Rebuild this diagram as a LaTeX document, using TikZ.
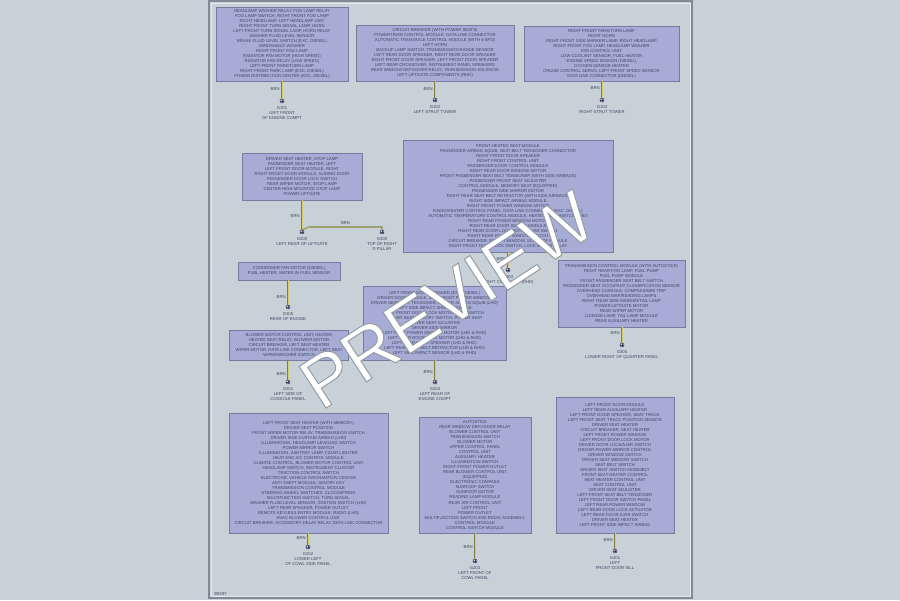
\documentclass[tikz,border=0pt]{standalone}
\usepackage{fontspec}
\usetikzlibrary{positioning}
\newfontfamily\diagfont{Liberation Sans}
\newcommand{\boxfont}{\diagfont\fontsize{2.4}{2.85}\selectfont}
\newcommand{\wmfont}{\diagfont\fontsize{41}{41}\selectfont}
% white letters with a grey outline (text render mode 2)
\newcommand{\outlined}[1]{\textcolor{white}{\special{pdf:literal q 0.58 0.61 0.64 RG 0.55 w 2 Tr}#1\special{pdf:literal Q}}}
\definecolor{bgcol}{RGB}{199,209,215}
\definecolor{boxfill}{RGB}{166,172,214}
\definecolor{boxline}{RGB}{118,124,160}
\definecolor{inkcol}{RGB}{66,68,100}
\definecolor{wirecol}{RGB}{128,126,58}
\definecolor{wirelite}{RGB}{214,204,112}
\definecolor{frameline}{RGB}{128,138,148}

\begin{document}
\begin{tikzpicture}[x=0.02cm, y=-0.02cm,
	compbox/.style={draw=boxline, fill=boxfill, text=inkcol, font=\boxfont, align=center, inner sep=1pt},
	gnd/.style={circle, draw=inkcol, fill=bgcol, line width=0.3pt, inner sep=0pt, minimum size=0.08cm,
		path picture={\draw[inkcol, line width=0.3pt] (path picture bounding box.north) -- (path picture bounding box.south)
			(path picture bounding box.west) -- (path picture bounding box.east);}},
	glabel/.style={text=inkcol, font=\boxfont, align=center, inner sep=0pt},
	wire/.style={draw=wirecol, line width=0.7pt, postaction={draw=wirelite, line width=0.25pt, transform canvas={xshift=0.3pt}}},
	wlabel/.style={text=inkcol, font=\boxfont, inner sep=1pt}]
	\useasboundingbox (0,0) rectangle (900,600);
	\fill[bgcol] (0,0) rectangle (900,600);
	\draw[frameline, line width=0.6pt] (209,1) rectangle (692,598);
	\draw[white!80!frameline, line width=0.3pt] (211,3) rectangle (690,596);
	\node[glabel, anchor=west] (figno) at (214,594) {9R297};

	% top row
	\node[compbox, minimum width=2.64cm, minimum height=1.48cm] (boxA) at (282,44) {HEADLAMP WASHER RELAY, FOG LAMP RELAY\\
		FOG LAMP SWITCH, RIGHT FRONT FOG LAMP\\RIGHT HEADLAMP, LEFT HEADLAMP UNIT\\
		RIGHT FRONT TURN SIGNAL LAMP, HORN\\LEFT FRONT TURN SIGNAL LAMP, HORN RELAY\\
		WASHER FLUID LEVEL SENSOR\\BRAKE FLUID LEVEL SWITCH (EXC. DIESEL)\\WINDSHIELD WASHER\\
		RIGHT FRONT FOG LAMP\\RADIATOR FAN MOTOR (HIGH SPEED)\\RADIATOR FAN RELAY (LOW SPEED)\\
		LEFT FRONT PARK/TURN LAMP\\RIGHT FRONT PARK LAMP (EXC. DIESEL)\\POWER DISTRIBUTION CENTER (EXC. DIESEL)};
	\node[compbox, minimum width=3.16cm, minimum height=1.12cm] (boxB) at (435,53) {CIRCUIT BREAKER (WITH POWER SEATS)\\
		POWERTRAIN CONTROL MODULE, DATA LINK CONNECTOR\\AUTOMATIC TRANSAXLE CONTROL MODULE (WITH 4-SPD)\\
		LEFT HORN\\BACKUP LAMP SWITCH, TRANSMISSION RANGE SENSOR\\LEFT REAR DOOR SPEAKER, RIGHT REAR DOOR SPEAKER\\
		RIGHT FRONT DOOR SPEAKER, LEFT FRONT DOOR SPEAKER\\LEFT REAR CROSSOVER, INSTRUMENT PANEL SPEAKERS\\
		REAR WINDOW DEFOGGER RELAY, TRANSMISSION SOLENOID\\LEFT LIFTGATE COMPONENTS (RHD)};
	\node[compbox, minimum width=3.10cm, minimum height=1.10cm] (boxC) at (601.5,53.5) {RIGHT FRONT PARK/TURN LAMP\\
		RIGHT HORN\\RIGHT FRONT SIDE MARKER LAMP, RIGHT HEADLAMP\\RIGHT FRONT FOG LAMP, HEADLAMP WASHER\\
		FAN CONTROL UNIT\\LOW COOLANT SENSOR, FUEL HEATER\\ENGINE SPEED SENSOR (DIESEL)\\
		OXYGEN SENSOR HEATER\\CRUISE CONTROL SERVO, LEFT FRONT SPEED SENSOR\\DATA LINK CONNECTOR (DIESEL)};

	\node[gnd] (gA) at (282,101) {};
	\node[gnd] (gB) at (435,100) {};
	\node[gnd] (gC) at (602,100) {};
	\node[glabel, below=1.5pt of gA] (lA) {G101\\LEFT FRONT\\OF ENGINE COMPT};
	\node[glabel, below=1.5pt of gB] (lB) {G102\\LEFT STRUT TOWER};
	\node[glabel, below=1.5pt of gC] (lC) {G103\\RIGHT STRUT TOWER};
	\draw[wire] (boxA.south -| gA) -- (gA.north) node[wlabel, pos=0.45, left] {BRN};
	\draw[wire] (boxB.south -| gB) -- (gB.north) node[wlabel, pos=0.45, left] {BRN};
	\draw[wire] (boxC.south -| gC) -- (gC.north) node[wlabel, pos=0.4, left] {BRN};

	% middle
	\node[compbox, minimum width=2.40cm, minimum height=0.94cm] (boxD) at (302,176.5) {DRIVER SEAT HEATER, STOP LAMP\\
		PASSENGER SEAT HEATER, LEFT\\LEFT FRONT DOOR MODULE, RIGHT\\RIGHT FRONT DOOR MODULE, SLIDING DOOR\\
		PASSENGER DOOR LOCK SWITCH\\REAR WIPER MOTOR, STOP LAMP\\CENTER HIGH MOUNTED STOP LAMP\\POWER LIFTGATE};
	\node[compbox, minimum width=4.20cm, minimum height=2.24cm] (boxE) at (508,196) {FRONT HEATED SEAT MODULE\\
		PASSENGER AIRBAG SQUIB, SEAT BELT TENSIONER CONNECTOR\\RIGHT FRONT DOOR SPEAKER\\RIGHT FRONT CONTROL UNIT\\
		PASSENGER DOOR CONTROL MODULE\\RIGHT REAR DOOR WINDOW MOTOR\\
		FRONT PASSENGER SEAT BELT TENSIONER (WITH SIDE AIRBAGS)\\PASSENGER FRONT SEAT ADJUSTER\\
		CONTROL MODULE, MEMORY SEAT (EQUIPPED)\\PASSENGER SIDE MIRROR MOTOR\\
		RIGHT REAR SEAT BELT RETRACTOR (WITH SIDE AIRBAGS)\\RIGHT SIDE IMPACT AIRBAG MODULE\\
		RIGHT FRONT POWER WINDOW MOTOR\\RADIO/HEATER CONTROL PANEL, DATA LINK CONNECTOR (EXC. DIESEL)\\
		AUTOMATIC TEMPERATURE CONTROL MODULE, HEATED SEAT SWITCH (LHD)\\RIGHT REAR POWER WINDOW MOTOR\\
		RIGHT REAR DOOR SWITCH MODULE\\RIGHT REAR DOOR LOCK MOTOR/AJAR SWITCH\\RIGHT REAR POWER WINDOW SWITCH\\
		CIRCUIT BREAKER, POWER WINDOW, SUNROOF MODULE\\RIGHT FRONT DOOR LOCK SWITCH, LOCK MOTOR RELAY};
	\node[compbox, minimum width=2.04cm, minimum height=0.36cm] (boxF) at (289,271) {CONDENSER FAN MOTOR (DIESEL)\\
		FUEL HEATER, WATER IN FUEL SENSOR};
	\node[compbox, minimum width=2.54cm, minimum height=1.34cm] (boxH) at (621.5,293.5) {TRANSMISSION CONTROL MODULE (WITH AUTOSTICK)\\
		RIGHT REAR FOG LAMP, FUEL PUMP\\FUEL PUMP MODULE\\FRONT PASSENGER SEAT BELT SWITCH\\
		PASSENGER SEAT OCCUPANT CLASSIFICATION SENSOR\\OVERHEAD CONSOLE, COMPASS/MINI TRIP\\
		OVERHEAD MAP/READING LAMPS\\RIGHT REAR SIDE MARKER/TAIL LAMP\\POWER LIFTGATE MOTOR\\
		REAR WIPER MOTOR\\LICENSE LAMP, TAIL LAMP MODULE\\REAR AUXILIARY HEATER};
	\node[compbox, minimum width=2.86cm, minimum height=1.48cm] (boxG) at (434.5,323) {LEFT FRONT DOOR SPEAKER (EXC. DIESEL)\\
		DRIVER DOOR MODULE, LEFT FRONT POWER WINDOW\\DRIVER SEAT BELT TENSIONER, DRIVER AIRBAG SQUIB (LHD)\\
		LEFT SIDE IMPACT AIRBAG MODULE\\LEFT FRONT DOOR LOCK MOTOR/AJAR SWITCH\\DRIVER SEAT MEMORY SWITCH, POWER SEAT\\
		DRIVER SEAT ADJUSTER\\DRIVER SIDE MIRROR\\LEFT REAR POWER WINDOW MOTOR (LHD \& RHD)\\
		LEFT REAR DOOR LOCK MOTOR (LHD \& RHD)\\LEFT REAR DOOR SPEAKER (LHD \& RHD)\\
		LEFT REAR SEAT BELT RETRACTOR (LHD \& RHD)\\LEFT SIDE IMPACT SENSOR (LHD \& RHD)};
	\node[compbox, minimum width=2.38cm, minimum height=0.60cm] (boxI) at (289,345.5) {BLOWER MOTOR CONTROL UNIT, HEATER\\
		HEATED SEAT RELAY, BLOWER MOTOR\\CIRCUIT BREAKER, LEFT SEAT HEATER\\
		WIPER MOTOR, DATA LINK CONNECTOR, LEFT SEAT\\WIPER/WASHER SWITCH};

	\node[gnd] (gD) at (302,232) {};
	\node[gnd] (gDD) at (382,232) {};
	\node[gnd] (gE) at (508,270) {};
	\node[gnd] (gF) at (288,307) {};
	\node[gnd] (gG) at (435,382) {};
	\node[gnd] (gH) at (622,345) {};
	\node[gnd] (gI) at (288,382) {};
	\coordinate (dturn) at (309,227);
	\node[glabel, below=1.5pt of gD] (lD) {G200\\LEFT REAR OF LIFTGATE};
	\node[glabel, below=1.5pt of gDD] (lDD) {G300\\TOP OF RIGHT\\D PILLAR};
	\node[glabel, below=1.5pt of gE] (lE) {G303\\RIGHT COWL SIDE (RHD)};
	\node[glabel, below=1.5pt of gF] (lF) {G105\\REAR OF ENGINE};
	\node[glabel, below=1.5pt of gG] (lG) {G204\\LEFT REAR OF\\ENGINE COMPT};
	\node[glabel, below=1.5pt of gH] (lH) {G305\\LOWER RIGHT OF QUARTER PANEL};
	\node[glabel, below=1.5pt of gI] (lI) {G201\\LEFT SIDE OF\\CONSOLE PANEL};
	\draw[wire] (boxD.south -| gD) -- (gD.north) node[wlabel, pos=0.55, left] {BRN};
	\draw[wire] (gD.north) -- (dturn) -| (gDD.north) node[wlabel, pos=0.25, above] {BRN};
	\draw[wire] (boxE.south -| gE) -- (gE.north) node[wlabel, pos=0.45, left] {BRN};
	\draw[wire] (boxF.south -| gF) -- (gF.north) node[wlabel, pos=0.7, left] {BRN};
	\draw[wire] (boxG.south -| gG) -- (gG.north) node[wlabel, pos=0.6, left] {BRN};
	\draw[wire] (boxH.south -| gH) -- (gH.north) node[wlabel, pos=0.35, left] {BRN};
	\draw[wire] (boxI.south -| gI) -- (gI.north) node[wlabel, pos=0.7, left] {BRN};

	% bottom row
	\node[compbox, minimum width=3.18cm, minimum height=2.40cm] (boxJ) at (308.5,473) {LEFT FRONT SEAT HEATER (WITH MEMORY)\\
		DRIVER SEAT POSITION\\FRONT WIPER MOTOR RELAY, TRANSMISSION SWITCH\\DRIVER SIDE CURTAIN AIRBAG (LHD)\\
		ILLUMINATION, HEADLAMP LEVELING SWITCH\\POWER MIRROR SWITCH\\ILLUMINATION, ASHTRAY LAMP, CIGAR LIGHTER\\
		HEAT AND A/C CONTROL MODULE\\CLIMATE CONTROL, BLOWER MOTOR CONTROL UNIT\\HEADLAMP SWITCH, INSTRUMENT CLUSTER\\
		TRACTION CONTROL SWITCH\\ELECTRONIC VEHICLE INFORMATION CENTER\\ANTI-THEFT MODULE, SENTRY KEY\\
		TRANSMISSION CONTROL MODULE\\STEERING WHEEL SWITCHES, CLOCKSPRING\\MULTIFUNCTION SWITCH, TURN SIGNAL\\
		WASHER FLUID LEVEL SENSOR, IGNITION SWITCH (LHD)\\LEFT REAR SPEAKER, POWER OUTLET\\
		REMOTE KEYLESS ENTRY MODULE, RADIO (LHD)\\HVAC BLOWER CONTROL UNIT\\
		CIRCUIT BREAKER, ACCESSORY DELAY RELAY, DATA LINK CONNECTOR};
	\node[compbox, minimum width=2.24cm, minimum height=2.32cm] (boxK) at (475,475) {AUTOSTICK\\
		REAR WINDOW DEFOGGER RELAY\\BLOWER CONTROL UNIT\\TRANSMISSION SWITCH\\BLOWER MOTOR\\
		UPPER CONTROL PANEL\\CONTROL UNIT\\AUXILIARY HEATER\\ILLUMINATION SWITCH\\RIGHT FRONT POWER OUTLET\\
		REAR BLOWER CONTROL UNIT\\(EQUIPPED)\\ELECTRONIC COMPASS\\SUNROOF SWITCH\\SUNROOF MOTOR\\
		READING LAMP MODULE\\REAR AIR CONTROL UNIT\\LEFT FRONT\\POWER OUTLET\\
		MULTIFUNCTION SWITCH AND RADIO ASSEMBLY,\\CONTROL MODULE\\CONTROL SWITCH MODULE};
	\node[compbox, minimum width=2.36cm, minimum height=2.72cm] (boxL) at (615,465) {LEFT FRONT DOOR MODULE\\
		LEFT REAR AUXILIARY HEATER\\LEFT FRONT DOOR SPEAKER, SEAT TRACK\\LEFT FRONT SEAT TRACK POSITION SENSOR\\
		DRIVER SEAT HEATER\\CIRCUIT BREAKER, SEAT HEATER\\LEFT FRONT POWER WINDOW\\LEFT FRONT DOOR LOCK MOTOR\\
		DRIVER DOOR LOCK/AJAR SWITCH\\DRIVER POWER MIRROR CONTROL\\DRIVER WINDOW SWITCH\\
		DRIVER SEAT MEMORY SWITCH\\SEAT BELT SWITCH\\DRIVER SEAT SWITCH ASSEMBLY\\FRONT SEAT HEATER CONTROL\\
		SEAT HEATER CONTROL UNIT\\SEAT CONTROL UNIT\\DRIVER SEAT ADJUSTER\\LEFT FRONT SEAT BELT TENSIONER\\
		LEFT FRONT DOOR SWITCH PANEL\\LEFT REAR POWER WINDOW\\LEFT REAR DOOR LOCK ACTUATOR\\
		LEFT REAR DOOR AJAR SWITCH\\DRIVER SEAT HEATER\\LEFT FRONT SIDE IMPACT AIRBAG};

	\node[gnd] (gJ) at (308,547) {};
	\node[gnd] (gK) at (475,561) {};
	\node[gnd] (gL) at (615,551) {};
	\node[glabel, below=1.5pt of gJ] (lJ) {G202\\LOWER LEFT\\OF COWL SIDE PANEL};
	\node[glabel, below=1.5pt of gK] (lK) {G203\\LEFT FRONT OF\\COWL PANEL};
	\node[glabel, below=1.5pt of gL] (lL) {G401\\LEFT\\FRONT DOOR SILL};
	\draw[wire] (boxJ.south -| gJ) -- (gJ.north) node[wlabel, pos=0.45, left] {BRN};
	\draw[wire] (boxK.south -| gK) -- (gK.north) node[wlabel, pos=0.55, left] {BRN};
	\draw[wire] (boxL.south -| gL) -- (gL.north) node[wlabel, pos=0.45, left] {BRN};

	%\node at (450,300) {PREVIEW};
	\node[rotate=33, font=\wmfont, inner sep=0pt] (wmark) at (447,300) {\outlined{PREVIEW}};
\end{tikzpicture}
\end{document}
